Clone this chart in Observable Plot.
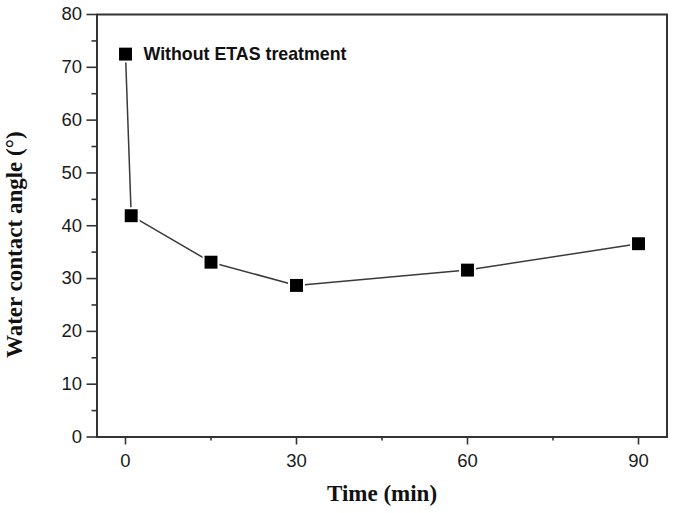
<!DOCTYPE html>
<html>
<head>
<meta charset="utf-8">
<script src="https://cdn.jsdelivr.net/npm/d3@7"></script>
<script src="https://cdn.jsdelivr.net/npm/@observablehq/plot@0.6"></script>
<style>
  html, body { margin: 0; padding: 0; background: white; }
</style>
</head>
<body>
<div id="chart"></div>
<script>
const times = [0, 1, 15, 30, 60, 90];
const angles = [72.5, 41.9, 33.1, 28.7, 31.6, 36.6];
const yTicks = [0, 10, 20, 30, 40, 50, 60, 70, 80];
const yMinorTicks = [5, 15, 25, 35, 45, 55, 65, 75];
const xTicks = [0, 30, 60, 90];
const xMinorTicks = [15, 45, 75];
const seriesLabel = "Without ETAS treatment";
const xTitle = "Time (min)";
const yTitle = "Water contact angle (°)";

const data = times.map((t, i) => ({time: t, angle: angles[i]}));

const serif = "'Liberation Serif', 'Times New Roman', serif";
const sans = "'Liberation Sans', Arial, sans-serif";

const chart = Plot.plot({
  width: 675,
  height: 513,
  marginLeft: 96.5,
  marginRight: 8.5,
  marginTop: 14,
  marginBottom: 76.5,
  x: {domain: [-5, 95]},
  y: {domain: [0, 80]},
  style: {fontFamily: sans, background: "white", color: "#1a1a1a"},
  marks: [
    Plot.axisY(yTicks, {tickSize: 10, tickFormat: () => "", label: null, stroke: "#333", strokeWidth: 1.6}),
    Plot.axisY(yMinorTicks, {tickSize: 5, tickFormat: () => "", label: null, stroke: "#333", strokeWidth: 1.6}),
    Plot.axisX(xTicks, {tickSize: 8, tickFormat: () => "", label: null, stroke: "#333", strokeWidth: 1.6}),
    Plot.axisX(xMinorTicks, {tickSize: 4, tickFormat: () => "", label: null, stroke: "#333", strokeWidth: 1.6}),
    Plot.text(yTicks, {y: d => d, text: d => String(d), frameAnchor: "left", dx: -15, textAnchor: "end",
      lineAnchor: "middle", fontSize: 18.5, fill: "#1a1a1a"}),
    Plot.text(xTicks, {x: d => d, text: d => String(d), frameAnchor: "bottom", dy: 17, textAnchor: "middle",
      lineAnchor: "top", fontSize: 18.5, fill: "#1a1a1a"}),
    Plot.frame({stroke: "#333", strokeWidth: 2}),
    Plot.line(data, {x: "time", y: "angle", stroke: "#3a3a3a", strokeWidth: 1.5}),
    Plot.dot(data, {x: "time", y: "angle", symbol: "square", r: 9.5, fill: "white"}),
    Plot.dot(data, {x: "time", y: "angle", symbol: "square", r: 7.3, fill: "black"}),
    Plot.text([data[0]], {x: "time", y: "angle", text: () => seriesLabel, dx: 18, textAnchor: "start",
      fontWeight: "bold", fontSize: 17.8, fill: "#111"}),
    Plot.text([xTitle], {frameAnchor: "bottom", dy: 57, textAnchor: "middle", lineAnchor: "middle",
      fontFamily: serif, fontWeight: "bold", fontSize: 23, fill: "#111"}),
    Plot.text([yTitle], {frameAnchor: "left", rotate: -90, dx: -82, dy: 19, textAnchor: "middle", lineAnchor: "middle",
      fontFamily: serif, fontWeight: "bold", fontSize: 23, fill: "#111"})
  ]
});

document.getElementById("chart").appendChild(chart);
</script>
</body>
</html>
